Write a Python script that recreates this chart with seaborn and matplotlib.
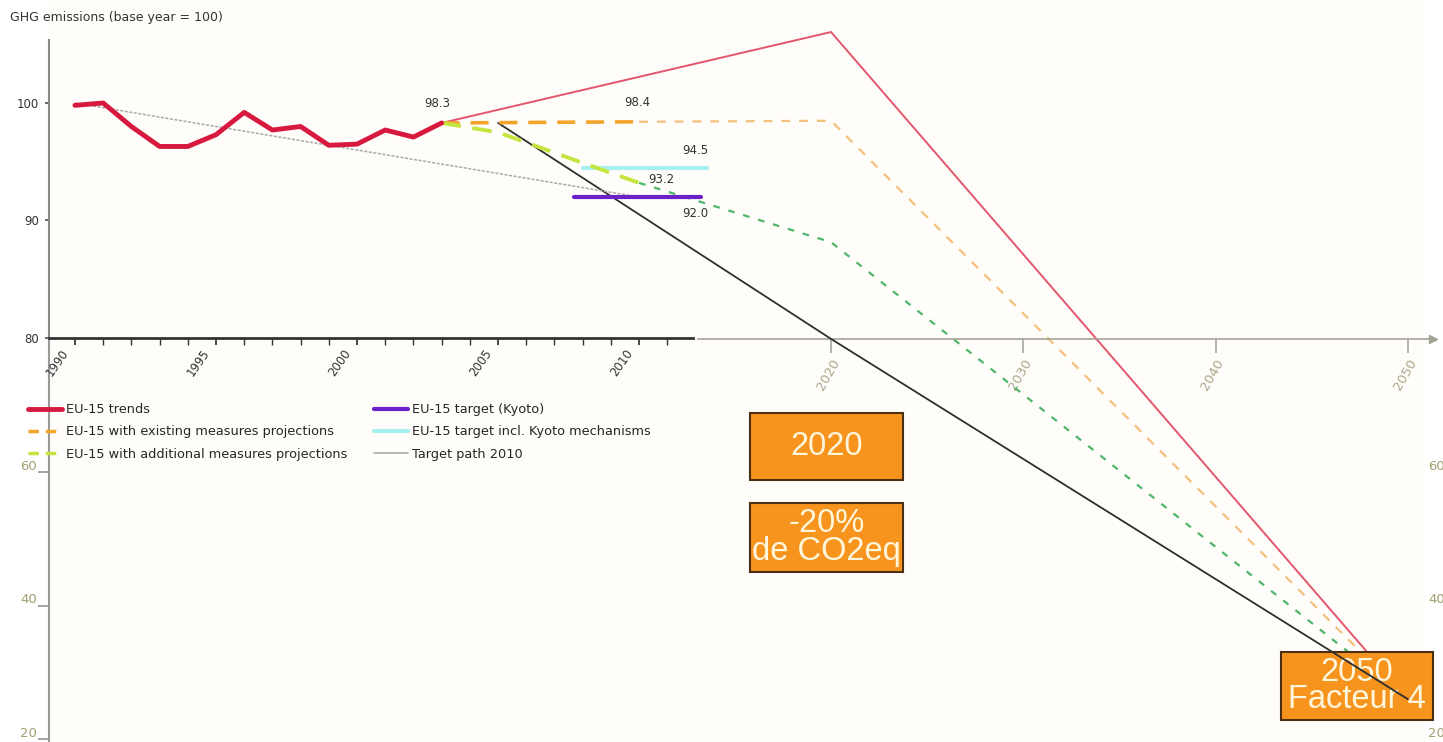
import matplotlib
matplotlib.use("Agg")
import matplotlib.pyplot as plt
from matplotlib.lines import Line2D
from matplotlib.patches import Rectangle
import pandas as pd
import seaborn as sns

# --- data ---
trend_years = list(range(1990, 2004))
trend_values = [99.8, 100.0, 98.0, 96.3, 96.3, 97.3, 99.2, 97.7, 98.0, 96.4, 96.5, 97.7, 97.1, 98.3]

wem_years = [2003, 2010]
wem_values = [98.3, 98.4]
wam_years = [2003, 2005, 2008, 2010]
wam_values = [98.3, 97.5, 94.9, 93.2]

kyoto_years = [2007.7, 2012.2]
kyoto_values = [92.0, 92.0]
kyoto_mech_years = [2008.0, 2012.4]
kyoto_mech_values = [94.5, 94.5]
path_years = [1990, 2010]
path_values = [100.0, 92.0]

# long-term extensions: first point in the inner chart, the rest on the outer scale
ext_years = [2020, 2050]
ext_red = [126.0, 26.0]
ext_orange = [112.7, 26.0]
ext_green = [94.5, 26.0]
ext_black = [80.0, 26.0]
ext_start = {"red": (2003, 98.3), "orange": (2010, 98.4),
             "green": (2010, 93.2), "black": (2005, 98.3)}

outer_xticks = [2020, 2030, 2040, 2050]
outer_yticks = [20, 40, 60]
inner_xticks = [1990, 1995, 2000, 2005, 2010]
inner_yticks = [80, 90, 100]

legend_labels = ["EU-15 trends", "EU-15 with existing measures projections",
                 "EU-15 with additional measures projections", "EU-15 target (Kyoto)",
                 "EU-15 target incl. Kyoto mechanisms", "Target path 2010"]

sns.set_theme(style="white")
plt.rcParams["font.family"] = ["DejaVu Sans"]

W, H = 1443, 742
fig = plt.figure(figsize=(W / 100, H / 100), dpi=100)
fig.patch.set_facecolor("white")


def px_rect(l, t, r, b):
    return [l / W, (H - b) / H, (r - l) / W, (b - t) / H]


ax_out = fig.add_axes(px_rect(49, 0, 1425, 742))
ax_in = fig.add_axes(px_rect(49, 40, 693, 338))
ax_out.set_facecolor("#fffdfa")
ax_in.set_facecolor("none")

# outer (long term) axes
ax_out.set_xlim(1979.33, 2050.89)
ax_out.set_ylim(19.58, 130.8)
for s in ["top", "right"]:
    ax_out.spines[s].set_visible(False)
ax_out.spines["bottom"].set_position(("data", 80))
ax_out.spines["bottom"].set_bounds(2013.1, 2051.2)
ax_out.spines["bottom"].set_color("#a4a494")
ax_out.spines["bottom"].set_linewidth(1.2)
ax_out.spines["left"].set_bounds(19.58, 80)
ax_out.spines["left"].set_color("#999999")
ax_out.spines["left"].set_linewidth(1.5)
ax_out.plot([2051.3], [80], marker=">", color="#a4a494", markersize=6, clip_on=False)

ax_out.set_xticks(outer_xticks)
ax_out.set_xticklabels([str(t) for t in outer_xticks], rotation=60, ha="right",
                       rotation_mode="anchor", color="#a8a888", fontsize=9.5)
ax_out.set_yticks(outer_yticks)
ax_out.set_yticklabels([])
ax_out.tick_params(axis="x", bottom=True, length=10, color="#aaaaaa", pad=3)
ax_out.tick_params(axis="y", left=True, right=False, length=8, color="#999999")
ax_out.set_xlabel("")
ax_out.set_ylabel("")

# outer y labels sit a little above their tick dash, on both sides
ylab_kw = dict(xycoords=("axes fraction", "data"), textcoords="offset pixels",
               color="#a0a070", fontsize=9.5, va="center", annotation_clip=False)
for t in outer_yticks:
    ax_out.annotate(str(t), (0, t), xytext=(-12, 6), ha="right", **ylab_kw)
    ax_out.annotate(str(t), (1, t), xytext=(3, 6), ha="left", **ylab_kw)

# inner (EEA) axes
ax_in.set_xlim(1989.08, 2011.91)
ax_in.set_ylim(80, 105.36)
for s in ["top", "right"]:
    ax_in.spines[s].set_visible(False)
ax_in.spines["left"].set_color("#888888")
ax_in.spines["left"].set_linewidth(1.5)
ax_in.spines["bottom"].set_color("#333333")
ax_in.spines["bottom"].set_linewidth(2)
ax_in.set_xticks(inner_xticks)
ax_in.set_xticks(range(1990, 2012), minor=True)
ax_in.set_xticklabels([])
for t in inner_xticks:
    ax_in.annotate(str(t), (t, 0), xycoords=("data", "axes fraction"),
                   xytext=(-9, -13), textcoords="offset pixels", rotation=55,
                   ha="right", va="center", rotation_mode="anchor",
                   fontsize=8.5, color="#333333", annotation_clip=False)
ax_in.set_yticks(inner_yticks)
ax_in.set_yticklabels([str(t) for t in inner_yticks], fontsize=8.5, color="#333333")
ax_in.tick_params(axis="x", which="both", bottom=True, length=5, color="#333333", pad=4)
ax_in.tick_params(axis="y", left=True, length=3, color="#555555", pad=4)


def to_outer(pt):
    disp = ax_in.transData.transform(pt)
    return ax_out.transData.inverted().transform(disp)


# extension lines on outer axes
ext = [("red", ext_red, dict(color="#e2566e", lw=1.4, zorder=2)),
       ("orange", ext_orange, dict(color="#f3c07e", lw=1.6, dashes=(4, 4), zorder=2)),
       ("green", ext_green, dict(color="#4fb56a", lw=1.6, dashes=(3, 4), zorder=2)),
       ("black", ext_black, dict(color="#2f2f2f", lw=1.3, zorder=6))]
for name, vals, kw in ext:
    x0, y0 = to_outer(ext_start[name])
    xs = [x0] + ext_years
    ys = [y0] + vals
    ax_out.plot(xs, ys, clip_on=False, **kw)

# inner series
tr = pd.DataFrame({"year": trend_years, "value": trend_values})
ax_in.plot(path_years, path_values, color="#aaaaaa", lw=1.1, ls=(0, (2, 1)), zorder=2)
ax_in.plot(kyoto_mech_years, kyoto_mech_values, color="#a8f0f0", lw=3, zorder=3, clip_on=False)
ax_in.plot(kyoto_years, kyoto_values, color="#6a22c8", lw=3, zorder=3, clip_on=False)
ax_in.plot(wem_years, wem_values, color="#f2a52a", lw=2.6, dashes=(5, 3), zorder=4)
ax_in.plot(wam_years, wam_values, color="#c5e540", lw=2.8, dashes=(5, 3), zorder=4)
sns.lineplot(data=tr, x="year", y="value", color="#d7193f", lw=3.5, ax=ax_in, zorder=5)
ax_in.set_xlabel("")
ax_in.set_ylabel("")

lab_kw = dict(textcoords="offset pixels", fontsize=8.5, color="#333333",
              ha="center", va="center", annotation_clip=False)
ax_in.annotate("98.3", (2003, 98.3), xytext=(-4, 19), **lab_kw)
ax_in.annotate("98.4", (2010, 98.4), xytext=(-2, 19), **lab_kw)
ax_in.annotate("94.5", (2012.0, 94.5), xytext=(0, 17), **lab_kw)
ax_in.annotate("93.2", (2010, 93.2), xytext=(22, 3), **lab_kw)
ax_in.annotate("92.0", (2012.0, 92.0), xytext=(0, -17), **lab_kw)

fig.text(10 / W, 1 - 18 / H, "GHG emissions (base year = 100)", fontsize=9,
         color="#333333", ha="left", va="center")

handles = [Line2D([], [], color="#d7193f", lw=3.5),
           Line2D([], [], color="#f2a52a", lw=2.5, dashes=(3, 2)),
           Line2D([], [], color="#c5e540", lw=2.5, dashes=(3, 2)),
           Line2D([], [], color="#6a22c8", lw=3),
           Line2D([], [], color="#a8f0f0", lw=3),
           Line2D([], [], color="#aaaaaa", lw=1.2)]
fig.legend(handles, legend_labels, ncol=2, loc="upper left",
           bbox_to_anchor=(23 / W, 1 - 398 / H), frameon=False, fontsize=9.3,
           handlelength=2.6, handletextpad=0.3, columnspacing=2.1, labelspacing=0.72,
           borderaxespad=0)

# orange boxes
boxes = [((750, 413, 903, 480), "2020"),
         ((750, 503, 903, 572), "-20%\nde CO2eq"),
         ((1281, 652, 1433, 720), "2050\nFacteur 4")]
for (l, t, r, b), txt in boxes:
    ax_out.add_patch(Rectangle((l / W, (H - b) / H), (r - l) / W, (b - t) / H,
                               transform=fig.transFigure, facecolor="#f7941d",
                               edgecolor="#4a3010", lw=1.5, zorder=4, clip_on=False))
    ax_out.text((l + r) / 2 / W, 1 - (t + b) / 2 / H, txt, transform=fig.transFigure,
                ha="center", va="center", fontsize=23.5, color="#fff6dc",
                family=["Liberation Sans"], linespacing=0.86, zorder=5, clip_on=False)

fig.savefig("out.png", dpi=100)
